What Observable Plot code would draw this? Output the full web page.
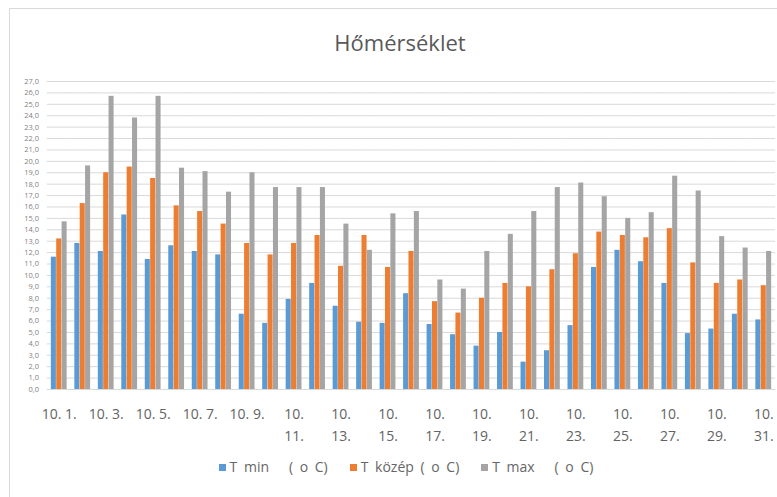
<!DOCTYPE html>
<html>
<head>
<meta charset="utf-8">
<script src="https://cdn.jsdelivr.net/npm/d3@7"></script>
<script src="https://cdn.jsdelivr.net/npm/@observablehq/plot@0.6"></script>
<style>
  html, body { margin: 0; padding: 0; background: #fff; }
  body { width: 777px; height: 497px; overflow: hidden; position: relative; font-family: "Open Sans", sans-serif; }
  #frame { position: absolute; left: 9px; top: 8px; width: 820px; height: 540px; border: 1px solid #d9d9d9; box-sizing: border-box; }
  #title { position: absolute; left: 0; width: 800px; top: 27px; text-align: center; font-size: 22px; color: #595959; }
  #chart { position: absolute; left: 0; top: 70px; }
  #legend { position: absolute; left: 0; width: 812px; top: 458px; display: flex; justify-content: center; gap: 22px; font-size: 14px; color: #666; line-height: 18px; word-spacing: 3px; }
  #legend .item { display: flex; align-items: center; white-space: pre; }
  #legend .sw { width: 7px; height: 7px; margin-right: 4px; display: inline-block; }
</style>
</head>
<body>
<div id="frame"></div>
<div id="title">Hőmérséklet</div>
<div id="chart"></div>
<div id="legend"></div>
<script>
const days = [1,2,3,4,5,6,7,8,9,10,11,12,13,14,15,16,17,18,19,20,21,22,23,24,25,26,27,28,29,30,31];
const tMin   = [11.6,12.8,12.1,15.3,11.4,12.6,12.1,11.8,6.6,5.8,7.9,9.3,7.3,5.9,5.8,8.4,5.7,4.8,3.8,5.0,2.4,3.4,5.6,10.7,12.2,11.2,9.3,4.9,5.3,6.6,6.1];
const tKozep = [13.2,16.3,19.0,19.5,18.5,16.1,15.6,14.5,12.8,11.8,12.8,13.5,10.8,13.5,10.7,12.1,7.7,6.7,8.0,9.3,9.0,10.5,11.9,13.8,13.5,13.3,14.1,11.1,9.3,9.6,9.1];
const tMax   = [14.7,19.6,25.7,23.8,25.7,19.4,19.1,17.3,19.0,17.7,17.7,17.7,14.5,12.2,15.4,15.6,9.6,8.8,12.1,13.6,15.6,17.7,18.1,16.9,15.0,15.5,18.7,17.4,13.4,12.4,12.1];
const seriesNames = ["T min   ( o C)", "T közép ( o C)", "T max   ( o C)"];
const seriesColors = ["#5b9bd5", "#ed7d31", "#a5a5a5"];
const labelDays = [1,3,5,7,9,11,13,15,17,19,21,23,25,27,29,31];
const yTicks = [0,1,2,3,4,5,6,7,8,9,10,11,12,13,14,15,16,17,18,19,20,21,22,23,24,25,26,27];

const values = [tMin, tKozep, tMax];
const data = days.flatMap((d, i) => seriesNames.map((s, k) => ({day: d, s, v: values[k][i]})));

const dayLabel = d => d < 10 ? `10. ${d}.` : `10.\n${d}.`;

const chart = Plot.plot({
  width: 777,
  height: 380,
  marginLeft: 47,
  marginRight: 2,
  marginTop: 11,
  marginBottom: 61,
  style: {fontFamily: "'Open Sans', sans-serif", background: "transparent"},
  fx: {domain: days, paddingInner: 0.3, paddingOuter: 0.15, round: false, label: null},
  x: {domain: seriesNames, padding: 0.06, round: false, axis: null},
  y: {domain: [0, 27], label: null},
  color: {domain: seriesNames, range: seriesColors},
  marks: [
    Plot.ruleY(yTicks, {stroke: "#d9d9d9", strokeWidth: 1, insetLeft: -3.7, insetRight: -3.7}),
    Plot.barY(data, {fx: "day", x: "s", y: "v", fill: "s"}),
    Plot.axisY({ticks: yTicks, tickSize: 0, tickPadding: 12, fontSize: 7.5, fill: "#7f7f7f",
      tickFormat: d => d.toFixed(1).replace(".", ","), label: null}),
    Plot.axisFx({anchor: "bottom", ticks: labelDays, tickSize: 0, tickPadding: 14, fontSize: 14, lineHeight: 1.55,
      fill: "#636363", tickFormat: dayLabel, label: null})
  ]
});
document.getElementById("chart").appendChild(chart);

const legend = document.getElementById("legend");
seriesNames.forEach((s, k) => {
  const item = document.createElement("div");
  item.className = "item";
  const sw = document.createElement("span");
  sw.className = "sw";
  sw.style.background = seriesColors[k];
  item.appendChild(sw);
  item.appendChild(document.createTextNode(s));
  legend.appendChild(item);
});
</script>
</body>
</html>
